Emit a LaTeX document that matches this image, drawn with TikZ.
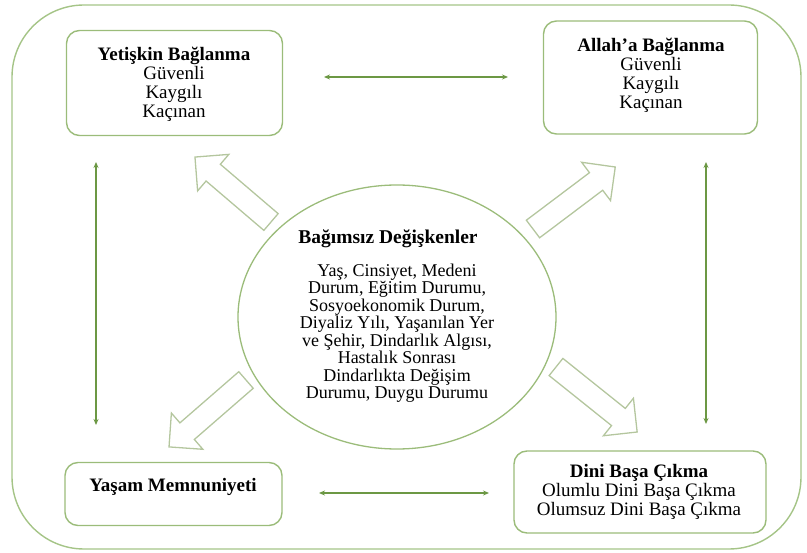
\documentclass[tikz,border=0pt]{standalone}
\usepackage{fontspec}
\setmainfont{Liberation Serif}
\usetikzlibrary{arrows.meta,shapes.geometric}
\definecolor{framegreen}{RGB}{165,196,135}
\definecolor{boxgreen}{RGB}{155,188,122}
\definecolor{arrowgreen}{RGB}{108,152,68}
\definecolor{blockgreen}{RGB}{180,198,158}
\begin{document}
\begin{tikzpicture}[x=1pt,y=-1pt,
  box/.style={draw=boxgreen,line width=1.4pt,rounded corners=13pt,inner sep=0pt},
  txt/.style={align=center,inner sep=0pt,font=\fontsize{19}{19}\selectfont},
  etxt/.style={align=center,inner sep=0pt,font=\fontsize{18}{17.5}\selectfont},
  conn/.style={draw=arrowgreen,line width=1.4pt,{Stealth[length=6pt,width=5pt]}-{Stealth[length=6pt,width=5pt]}},
  blockarrow/.style={draw=blockgreen,line width=1.3pt,line join=miter}]
\useasboundingbox (0,0) rectangle (807,553);
% outer frame
\draw[framegreen,line width=1.4pt,rounded corners=72pt] (12,5) rectangle (801,549);
% boxes
\node[box,minimum width=216pt,minimum height=105pt] (tl) at (174.5,83) {};
\node[box,minimum width=214pt,minimum height=113pt] (tr) at (650.5,77.5) {};
\node[box,minimum width=217pt,minimum height=63pt] (bl) at (173.5,494) {};
\node[box,minimum width=252pt,minimum height=82pt] (br) at (640,492) {};
\node[draw=boxgreen,line width=1.3pt,ellipse,minimum width=318pt,minimum height=264pt,inner sep=0pt] (ell) at (397,317) {};
% texts
\node[txt] (tltext) at (174,84) {\textbf{Yetişkin Bağlanma}\\Güvenli\\Kaygılı\\Kaçınan};
\node[txt] (trtext) at (651,75) {\textbf{Allah’a Bağlanma}\\Güvenli\\Kaygılı\\Kaçınan};
\node[txt] (bltext) at (173,487) {\textbf{Yaşam Memnuniyeti}};
\node[txt] (brtext) at (639,492) {\textbf{Dini Başa Çıkma}\\Olumlu Dini Başa Çıkma\\Olumsuz Dini Başa Çıkma};
\node[etxt,font=\fontsize{19.5}{19.5}\selectfont\bfseries] (etitle) at (388,239) {Bağımsız Değişkenler};
\node[etxt] (ebody) at (397,333) {Yaş, Cinsiyet, Medeni\\Durum, Eğitim Durumu,\\Sosyoekonomik Durum,\\Diyaliz Yılı, Yaşanılan Yer\\ve Şehir, Dindarlık Algısı,\\Hastalık Sonrası\\Dindarlıkta Değişim\\Durumu, Duygu Durumu};
% thin double arrows
\coordinate (t1) at (324,77); \coordinate (t2) at (508,77);
\coordinate (b1) at (319,493); \coordinate (b2) at (489,493);
\coordinate (l1) at (96,162); \coordinate (l2) at (96,425);
\coordinate (r1) at (706,162); \coordinate (r2) at (706,424);
\draw[conn] (t1) -- (t2);
\draw[conn] (b1) -- (b2);
\draw[conn] (l1) -- (l2);
\draw[conn] (r1) -- (r2);
% block arrows
\foreach \px/\py/\ang/\len in {271/222/139.5/100, 533/229/37/103, 246/380/221/102, 556/367/-38.7/104}{
  \draw[blockarrow,shift={(\px,\py)},rotate=\ang]
    (0,-11) -- (\len-24,-11) -- (\len-24,-24) -- (\len,0) -- (\len-24,24) -- (\len-24,11) -- (0,11) -- cycle;
}
\end{tikzpicture}
\end{document}
